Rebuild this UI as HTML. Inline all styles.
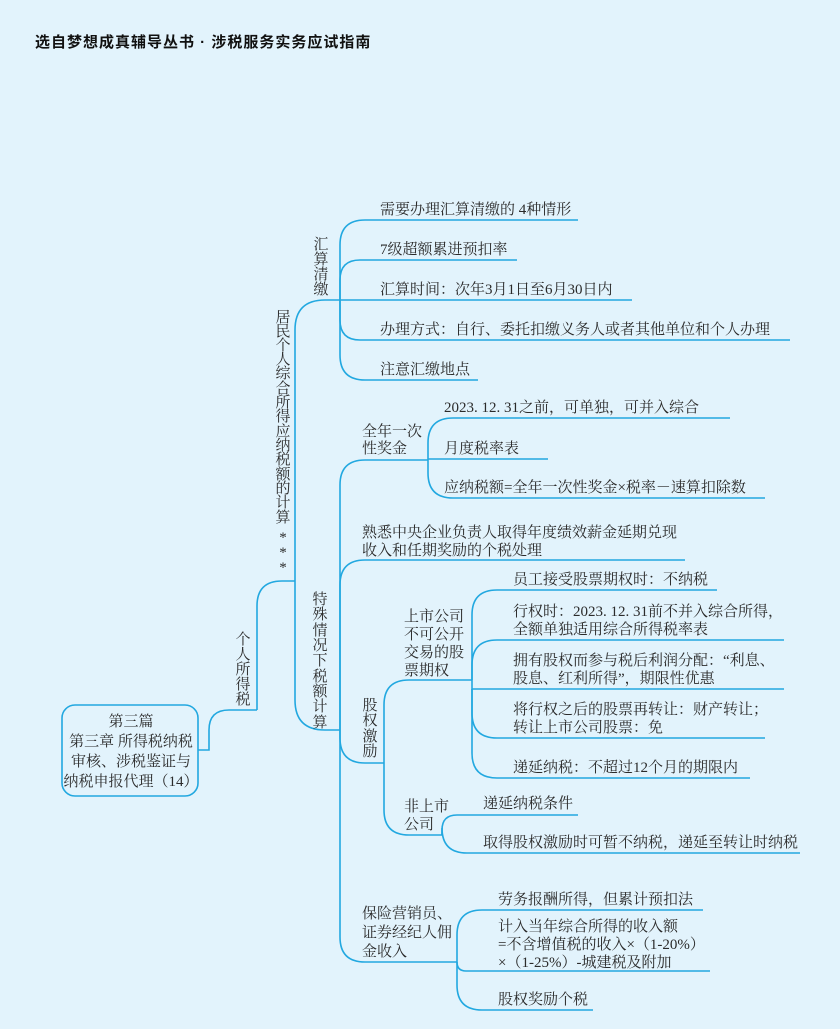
<!DOCTYPE html>
<html><head><meta charset="utf-8"><style>
html,body{margin:0;padding:0;background:#e2f3fc;}
svg{display:block}
.t{font-family:"Liberation Serif","Noto Serif CJK SC",serif;font-size:15px;fill:#2b2b2b}
.v{font-family:"Liberation Serif","Noto Serif CJK SC",serif;font-size:15px;fill:#2b2b2b;text-anchor:middle}
path{fill:none;stroke:#22a8e0;stroke-width:1.6}
</style></head><body>
<svg width="840" height="1029" viewBox="0 0 840 1029" xmlns="http://www.w3.org/2000/svg">
<rect width="840" height="1029" fill="#e2f3fc"/>
<text x="35" y="47" style="font-family:'Liberation Sans','Noto Sans CJK SC',sans-serif;font-size:15px;font-weight:bold;fill:#111;letter-spacing:1px">选自梦想成真辅导丛书 · 涉税服务实务应试指南</text>

<!-- root -->
<rect x="62" y="705" width="136" height="91" rx="13" fill="none" stroke="#22a8e0" stroke-width="1.6"/>
<text class="v" x="131" y="726">第三篇</text>
<text class="v" x="131" y="746">第三章  所得税纳税</text>
<text class="v" x="131" y="766">审核、涉税鉴证与</text>
<text class="v" x="131" y="786">纳税申报代理（14）</text>

<path d="M198,750 H209 V730 Q209,710 229,710 H257"/>
<path d="M257,710 V606 Q257,581 282,581 H295"/>
<path d="M295,581 V330 Q295,300 325,300 H340"/>
<path d="M295,581 V700 Q295,730 325,730 H340"/>

<path d="M340,300 V245 Q340,220 365,220 H578"/>
<path d="M340,300 V280 Q340,260 360,260 H517"/>
<path d="M340,300 H632"/>
<path d="M340,300 V320 Q340,340 360,340 H790"/>
<path d="M340,300 V355 Q340,380 365,380 H478"/>

<path d="M340,730 V485 Q340,460 365,460 H428"/>
<path d="M340,730 V585 Q340,560 365,560 H685"/>
<path d="M340,730 V738 Q340,763 365,763 H384"/>
<path d="M340,730 V937 Q340,962 365,962 H457"/>

<path d="M428,459 V443 Q428,418 453,418 H730"/>
<path d="M428,459 H548"/>
<path d="M428,459 V473 Q428,498 453,498 H765"/>

<path d="M384,763 V705 Q384,680 409,680 H472"/>
<path d="M384,763 V810 Q384,835 409,835 H442"/>

<path d="M472,680 V615 Q472,590 497,590 H717"/>
<path d="M472,680 V665 Q472,640 497,640 H784"/>
<path d="M472,680 V689 H784"/>
<path d="M472,689 V713 Q472,738 497,738 H765"/>
<path d="M472,689 V753 Q472,778 497,778 H750"/>

<path d="M442,835 V830 Q442,815 457,815 H578"/>
<path d="M442,835 V828 Q442,853 467,853 H800"/>

<path d="M457,962 V935 Q457,910 482,910 H703"/>
<path d="M457,962 Q457,971 466,971 H710"/>
<path d="M457,962 V985 Q457,1010 482,1010 H593"/>

<!-- vertical labels -->
<text class="v" x="243"><tspan x="243" y="644">个</tspan><tspan x="243" y="659">人</tspan><tspan x="243" y="674">所</tspan><tspan x="243" y="689">得</tspan><tspan x="243" y="704">税</tspan></text>

<text class="v"><tspan x="283" y="322">居</tspan><tspan x="283" y="336">民</tspan><tspan x="283" y="350">个</tspan><tspan x="283" y="364">人</tspan><tspan x="283" y="378">综</tspan><tspan x="283" y="393">合</tspan><tspan x="283" y="407">所</tspan><tspan x="283" y="421">得</tspan><tspan x="283" y="436">应</tspan><tspan x="283" y="450">纳</tspan><tspan x="283" y="464">税</tspan><tspan x="283" y="479">额</tspan><tspan x="283" y="493">的</tspan><tspan x="283" y="507">计</tspan><tspan x="283" y="522">算</tspan><tspan x="283" y="542">*</tspan><tspan x="283" y="557">*</tspan><tspan x="283" y="572">*</tspan></text>

<text class="v"><tspan x="321" y="249">汇</tspan><tspan x="321" y="264">算</tspan><tspan x="321" y="279">清</tspan><tspan x="321" y="294">缴</tspan></text>

<text class="v"><tspan x="320" y="604">特</tspan><tspan x="320" y="619">殊</tspan><tspan x="320" y="635">情</tspan><tspan x="320" y="650">况</tspan><tspan x="320" y="665">下</tspan><tspan x="320" y="681">税</tspan><tspan x="320" y="696">额</tspan><tspan x="320" y="711">计</tspan><tspan x="320" y="727">算</tspan></text>

<text class="v"><tspan x="370" y="710">股</tspan><tspan x="370" y="725">权</tspan><tspan x="370" y="741">激</tspan><tspan x="370" y="756">励</tspan></text>

<!-- 汇算清缴 children -->
<text class="t" x="380" y="214">需要办理汇算清缴的 4种情形</text>
<text class="t" x="380" y="254">7级超额累进预扣率</text>
<text class="t" x="380" y="294">汇算时间：次年3月1日至6月30日内</text>
<text class="t" x="380" y="334">办理方式：自行、委托扣缴义务人或者其他单位和个人办理</text>
<text class="t" x="380" y="374">注意汇缴地点</text>

<!-- 全年一次性奖金 -->
<text class="t" x="362" y="436">全年一次</text>
<text class="t" x="362" y="453">性奖金</text>
<text class="t" x="444" y="412">2023. 12. 31之前，可单独，可并入综合</text>
<text class="t" x="444" y="453">月度税率表</text>
<text class="t" x="444" y="492">应纳税额=全年一次性奖金×税率－速算扣除数</text>

<text class="t" x="362" y="537">熟悉中央企业负责人取得年度绩效薪金延期兑现</text>
<text class="t" x="362" y="555">收入和任期奖励的个税处理</text>

<!-- 股权激励 -->
<text class="t" x="404" y="621">上市公司</text>
<text class="t" x="404" y="639">不可公开</text>
<text class="t" x="404" y="657">交易的股</text>
<text class="t" x="404" y="675">票期权</text>

<text class="t" x="513" y="584">员工接受股票期权时：不纳税</text>
<text class="t" x="513" y="616">行权时：2023. 12. 31前不并入综合所得，</text>
<text class="t" x="513" y="634">全额单独适用综合所得税率表</text>
<text class="t" x="513" y="665">拥有股权而参与税后利润分配：“利息、</text>
<text class="t" x="513" y="683">股息、红利所得”，期限性优惠</text>
<text class="t" x="513" y="714">将行权之后的股票再转让：财产转让；</text>
<text class="t" x="513" y="732">转让上市公司股票：免</text>
<text class="t" x="513" y="772">递延纳税：不超过12个月的期限内</text>

<text class="t" x="404" y="811">非上市</text>
<text class="t" x="404" y="829">公司</text>
<text class="t" x="483" y="808">递延纳税条件</text>
<text class="t" x="483" y="847">取得股权激励时可暂不纳税，递延至转让时纳税</text>

<!-- 保险营销员 -->
<text class="t" x="362" y="918">保险营销员、</text>
<text class="t" x="362" y="937">证券经纪人佣</text>
<text class="t" x="362" y="956">金收入</text>
<text class="t" x="498" y="904">劳务报酬所得，但累计预扣法</text>
<text class="t" x="498" y="931">计入当年综合所得的收入额</text>
<text class="t" x="498" y="949">=不含增值税的收入×（1-20%）</text>
<text class="t" x="498" y="967">×（1-25%）-城建税及附加</text>
<text class="t" x="498" y="1004">股权奖励个税</text>
</svg>
</body></html>
